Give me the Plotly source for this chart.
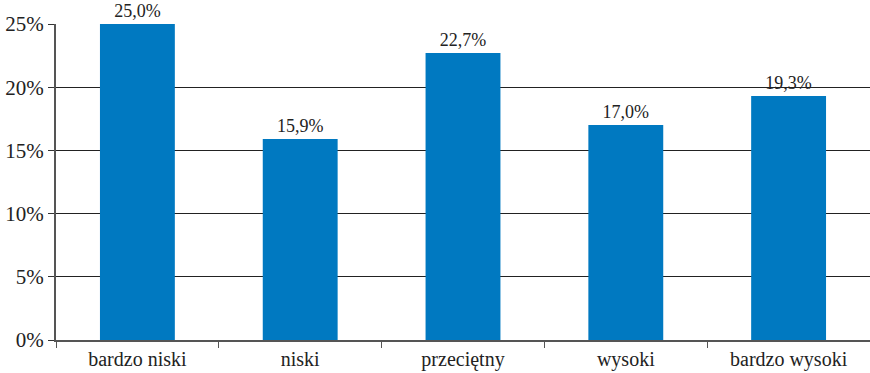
import plotly.graph_objects as go

categories = ["bardzo niski", "niski", "przeciętny", "wysoki", "bardzo wysoki"]
values = [25.0, 15.9, 22.7, 17.0, 19.3]
y_ticks = [0, 5, 10, 15, 20, 25]
y_tick_labels = ["0%", "5%", "10%", "15%", "20%", "25%"]

font_family = "Liberation Serif"

fig = go.Figure(go.Bar(
    x=categories,
    y=values,
    width=0.46,
    marker=dict(color="#0079C1", line=dict(width=0)),
    text=[f"{v:.1f}".replace(".", ",") + "%" for v in values],
    textposition="outside",
    textfont=dict(family=font_family, size=18, color="#222"),
    cliponaxis=False,
))

fig.update_layout(
    width=870, height=373,
    margin=dict(l=56, r=0, t=24, b=33),
    plot_bgcolor="white", paper_bgcolor="white",
    showlegend=False,
    bargap=0.54,
    font=dict(family=font_family, size=20, color="#222"),
    xaxis=dict(
        showline=True, linecolor="#555", linewidth=2,
        ticks="outside", ticklen=6, tickcolor="#555", tickwidth=1,
        tickson="boundaries",
        tickfont=dict(family=font_family, size=20, color="#222"),
        showgrid=False,
    ),
    yaxis=dict(
        range=[0, 25],
        tickvals=y_ticks, ticktext=y_tick_labels,
        showline=True, linecolor="#555", linewidth=2,
        ticks="outside", ticklen=6, tickcolor="#333", tickwidth=1,
        showgrid=True, gridcolor="#222", gridwidth=1,
        zeroline=False,
        tickfont=dict(family=font_family, size=21, color="#222"),
    ),
)

fig.write_html("out.html")
